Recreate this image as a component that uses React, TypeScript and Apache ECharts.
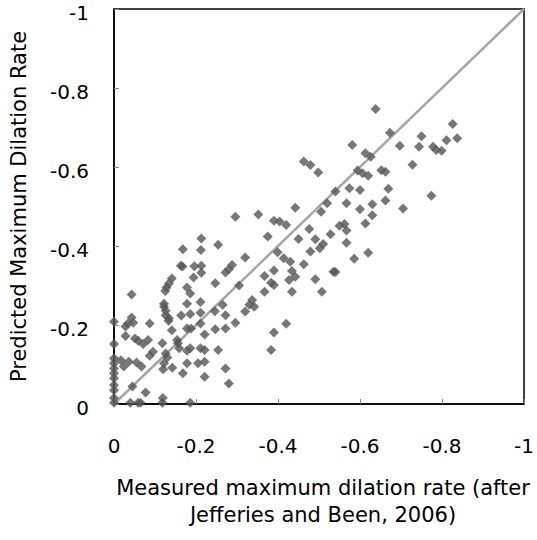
import React, { useEffect, useRef } from "react";
import * as echarts from "echarts";

// Measured maximum dilation rate (x) and predicted maximum dilation rate (y)
const measured: number[] = [
  -0.638, -0.826, -0.673, -0.75, -0.837, -0.811, -0.581, -0.697, -0.744, -0.778,
  -0.786, -0.799, -0.613, -0.626, -0.463, -0.479, -0.728, -0.498, -0.594, -0.652,
  -0.662, -0.606, -0.62, -0.574, -0.6, -0.669, -0.54, -0.774, -0.662, -0.567,
  -0.63, -0.52, -0.442, -0.6, -0.705, -0.505, -0.352, -0.296, -0.63, -0.39,
  -0.404, -0.42, -0.613, -0.55, -0.562, -0.476, -0.567, -0.375, -0.528, -0.45,
  -0.491, -0.213, -0.51, -0.502, -0.567, -0.254, -0.168, -0.212, -0.479, -0.399,
  -0.62, -0.414, -0.43, -0.586, -0.32, -0.163, -0.167, -0.196, -0.213, -0.288,
  -0.463, -0.28, -0.272, -0.39, -0.434, -0.535, -0.54, -0.213, -0.141, -0.194,
  -0.367, -0.442, -0.427, -0.491, -0.134, -0.247, -0.383, -0.39, -0.305, -0.128,
  -0.178, -0.125, -0.186, -0.434, -0.367, -0.507, -0.043, -0.337, -0.122, -0.178,
  -0.211, -0.265, -0.33, -0.342, -0.122, -0.126, -0.246, -0.32, -0.211, -0.186,
  -0.164, -0.126, -0.272, -0.043, -0.034, -0.047, -0.134, -0.133, -0.087, -0.211,
  -0.296, -0.42, 0, -0.028, -0.178, -0.188, -0.247, -0.272, -0.141, -0.39,
  -0.028, -0.221, -0.051, -0.083, -0.059, -0.071, -0.154, -0.156, -0.118, 0,
  -0.159, -0.186, -0.211, -0.221, -0.254, -0.383, -0.095, -0.087, -0.178, -0.126,
  -0.13, -0.017, -0.036, -0.055, -0.067, -0.024, -0.122, -0.178, -0.205, -0.221,
  -0.12, -0.142, -0.272, -0.168, -0.221, -0.28, -0.045, -0.077,
  0, -0.04, -0.059, -0.065, -0.118, -0.119, -0.186,
  0, 0, 0, 0, 0, 0, 0, 0,
];
const predicted: number[] = [
  -0.747, -0.709, -0.687, -0.678, -0.673, -0.668, -0.656, -0.654, -0.651, -0.651,
  -0.643, -0.641, -0.635, -0.626, -0.614, -0.605, -0.606, -0.586, -0.591, -0.592,
  -0.588, -0.584, -0.578, -0.546, -0.542, -0.545, -0.538, -0.527, -0.515, -0.508,
  -0.506, -0.508, -0.497, -0.493, -0.495, -0.487, -0.48, -0.474, -0.478, -0.464,
  -0.462, -0.453, -0.457, -0.451, -0.456, -0.443, -0.439, -0.424, -0.43, -0.418,
  -0.417, -0.419, -0.405, -0.394, -0.408, -0.403, -0.392, -0.39, -0.386, -0.384,
  -0.383, -0.369, -0.36, -0.368, -0.371, -0.35, -0.348, -0.349, -0.35, -0.352,
  -0.354, -0.341, -0.333, -0.338, -0.337, -0.335, -0.334, -0.332, -0.318, -0.32,
  -0.324, -0.322, -0.314, -0.316, -0.305, -0.306, -0.307, -0.301, -0.3, -0.295,
  -0.295, -0.286, -0.28, -0.284, -0.284, -0.284, -0.277, -0.263, -0.254, -0.254,
  -0.258, -0.251, -0.251, -0.246, -0.246, -0.236, -0.235, -0.234, -0.231, -0.228,
  -0.224, -0.225, -0.225, -0.219, -0.204, -0.206, -0.217, -0.211, -0.204, -0.204,
  -0.206, -0.203, -0.208, -0.196, -0.191, -0.191, -0.189, -0.191, -0.187, -0.181,
  -0.172, -0.176, -0.166, -0.162, -0.16, -0.152, -0.162, -0.154, -0.154, -0.152,
  -0.141, -0.141, -0.141, -0.137, -0.137, -0.137, -0.132, -0.122, -0.135, -0.128,
  -0.118, -0.111, -0.107, -0.105, -0.095, -0.095, -0.103, -0.103, -0.103, -0.107,
  -0.088, -0.092, -0.09, -0.078, -0.069, -0.052, -0.044, -0.029,
  -0.003, -0.003, -0.003, -0.003, -0.003, -0.015, -0.003,
  -0.103, -0.09, -0.078, -0.065, -0.048, -0.035, -0.015, -0.116,
];

const lineX: number[] = [0, -1];
const lineY: number[] = [0, -1];

const xTitle: string[] = ["Measured maximum dilation rate (after", "Jefferies and Been, 2006)"];
const yTitle = "Predicted Maximum Dilation Rate";

const FONT = "'DejaVu Sans', sans-serif";

export default function App() {
  const ref = useRef<HTMLDivElement>(null);
  useEffect(() => {
    if (!ref.current) return;
    const chart = echarts.init(ref.current, undefined, { renderer: "svg" });
    const pts = measured.map((x, i) => [x, predicted[i]]);
    const fmt = (v: number) => {
      const r = Math.round(v * 10) / 10;
      return r === 0 ? "0" : String(r);
    };
    chart.setOption({
      animation: false,
      backgroundColor: "#ffffff",
      grid: {
        left: 105,
        right: 10,
        top: 9,
        bottom: 136,
        show: true,
        borderColor: "#000000",
        borderWidth: 1.5,
      },
      xAxis: {
        type: "value",
        min: -1,
        max: 0,
        interval: 0.2,
        inverse: true,
        splitLine: { show: false },
        axisLine: { show: true, onZero: false, lineStyle: { color: "#000000", width: 1.5 } },
        axisTick: { show: true, inside: true, length: 5, lineStyle: { color: "#868686" } },
        axisLabel: {
          margin: 32,
          fontSize: 20,
          fontFamily: FONT,
          color: "#000000",
          formatter: fmt,
        },
      },
      yAxis: {
        type: "value",
        min: -1,
        max: 0,
        interval: 0.2,
        inverse: true,
        splitLine: { show: false },
        axisLine: { show: true, onZero: false, lineStyle: { color: "#000000", width: 1.5 } },
        axisTick: { show: true, inside: true, length: 5, lineStyle: { color: "#868686" } },
        axisLabel: {
          margin: 25,
          fontSize: 20,
          fontFamily: FONT,
          color: "#000000",
          formatter: fmt,
          verticalAlign: "top",
          lineHeight: 8,
        },
        name: yTitle,
        nameLocation: "middle",
        nameGap: 85,
        nameTextStyle: { fontSize: 21, fontFamily: FONT, color: "#000000" },
      },
      graphic: [
        {
          type: "text",
          x: 323,
          y: 488,
          style: {
            text: xTitle[0],
            fontSize: 21,
            fontFamily: FONT,
            fill: "#000000",
            align: "center",
            verticalAlign: "middle",
          },
        },
        {
          type: "text",
          x: 323,
          y: 515,
          style: {
            text: xTitle[1],
            fontSize: 21,
            fontFamily: FONT,
            fill: "#000000",
            align: "center",
            verticalAlign: "middle",
          },
        },
      ],
      series: [
        {
          type: "line",
          data: lineX.map((x, i) => [x, lineY[i]]),
          symbol: "none",
          lineStyle: { color: "#A6A6A6", width: 2.5 },
          z: 1,
        },
        {
          type: "scatter",
          data: pts,
          symbol: "diamond",
          symbolSize: 10,
          itemStyle: { color: "#555555" },
          z: 2,
        },
      ],
    });
    return () => chart.dispose();
  }, []);
  return <div ref={ref} style={{ width: 537, height: 540, position: "absolute", left: 0, top: 0 }} />;
}
